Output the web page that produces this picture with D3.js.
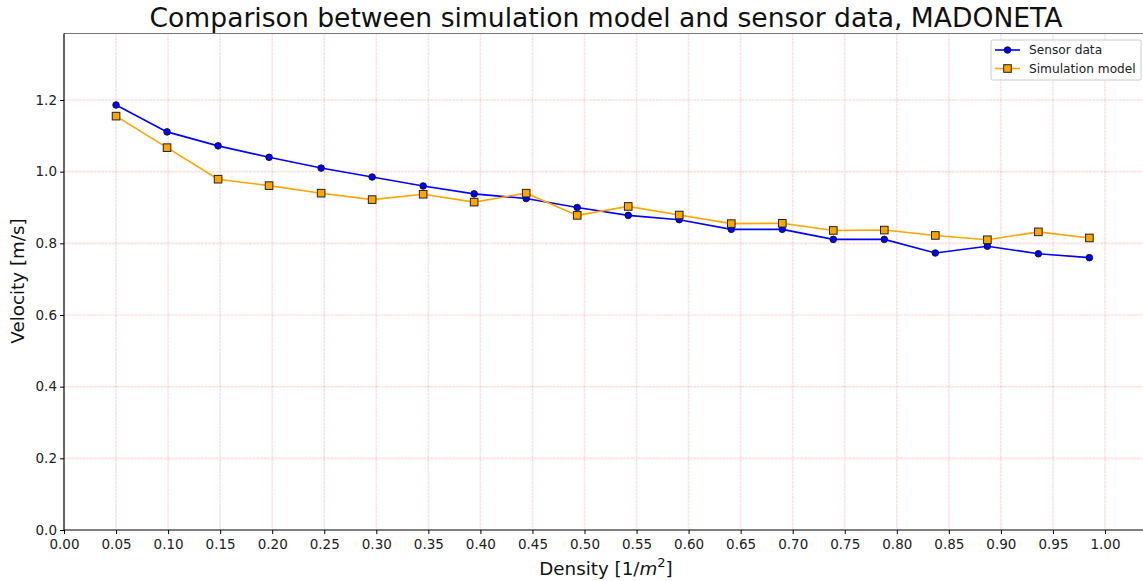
<!DOCTYPE html>
<html>
<head>
<meta charset="utf-8">
<script src="https://cdn.jsdelivr.net/npm/d3@7"></script>
<style>
  body { margin: 0; background: #fff; }
  svg { font-family: "DejaVu Sans", sans-serif; }
</style>
</head>
<body>
<svg id="chart"></svg>
<script>
// density bins (x) and velocities
const density = [0.050, 0.099, 0.148, 0.197, 0.247, 0.296, 0.345, 0.394, 0.444, 0.493,
                 0.542, 0.591, 0.641, 0.690, 0.739, 0.788, 0.837, 0.887, 0.936, 0.985];
const sensorData = [1.186, 1.111, 1.072, 1.040, 1.010, 0.985, 0.960, 0.938, 0.925, 0.900,
                    0.878, 0.866, 0.839, 0.839, 0.811, 0.811, 0.773, 0.792, 0.771, 0.760];
const simModel = [1.155, 1.067, 0.979, 0.961, 0.940, 0.922, 0.937, 0.915, 0.940, 0.878,
                  0.903, 0.879, 0.855, 0.856, 0.836, 0.837, 0.822, 0.810, 0.832, 0.815];
const xTicks = d3.range(0, 21).map(i => i * 0.05);
const yTicks = [0, 0.2, 0.4, 0.6, 0.8, 1.0, 1.2];
const seriesNames = ["Sensor data", "Simulation model"];

const width = 1143,
      height = 581,
      plotLeft = 64,
      plotRight = 1143,
      plotTop = 33.5,
      plotBottom = 530;

const xScale = d3.scaleLinear()
                  .domain([0, 1])
                  .range([plotLeft, 1105]);
const yScale = d3.scaleLinear()
                  .domain([0, 1.2])
                  .range([plotBottom, 100]);

const svg = d3.select('#chart')
              .attr('width', width)
              .attr('height', height);

// grid
const grid = svg.append('g');
grid.selectAll('.vgrid')
    .data(xTicks.slice(1))
    .enter().append('line')
    .attr('x1', d => xScale(d)).attr('x2', d => xScale(d))
    .attr('y1', plotTop).attr('y2', plotBottom)
    .attr('stroke', 'rgba(255,0,0,0.12)')
    .attr('stroke-width', 1.6)
    .attr('stroke-dasharray', '3,0.7');
grid.selectAll('.hgrid')
    .data(yTicks.slice(1))
    .enter().append('line')
    .attr('x1', plotLeft).attr('x2', plotRight)
    .attr('y1', d => yScale(d)).attr('y2', d => yScale(d))
    .attr('stroke', 'rgba(255,0,0,0.12)')
    .attr('stroke-width', 1.6)
    .attr('stroke-dasharray', '3,0.7');

// top spine (gray)
svg.append('line')
   .attr('x1', plotLeft).attr('x2', plotRight)
   .attr('y1', plotTop).attr('y2', plotTop)
   .attr('stroke', '#777').attr('stroke-width', 1.2);

// axes
const xAxis = svg.append('g')
    .attr('transform', `translate(0, ${plotBottom})`)
    .call(d3.axisBottom(xScale).tickValues(xTicks).tickFormat(d3.format('.2f')).tickSize(4).tickSizeOuter(0));
const yAxis = svg.append('g')
    .attr('transform', `translate(${plotLeft}, 0)`)
    .call(d3.axisLeft(yScale).tickValues(yTicks).tickFormat(d3.format('.1f')).tickSize(4).tickSizeOuter(0));

xAxis.select('.domain').attr('d', `M${plotLeft},0H${plotRight}`);
yAxis.select('.domain').attr('d', `M0,${plotBottom}V${plotTop}`);
[xAxis, yAxis].forEach(a => {
  a.selectAll('.domain').attr('stroke', '#000').attr('stroke-width', 1.2);
  a.selectAll('.tick line').attr('stroke', '#000');
  a.selectAll('.tick text')
   .attr('font-family', 'DejaVu Sans')
   .attr('font-size', 13.5)
   .attr('fill', '#222');
});
xAxis.selectAll('.tick text').attr('dy', '0.92em');

// lines + markers
const line = d3.line()
               .x(d => xScale(d[0]))
               .y(d => yScale(d[1]));

const sensorPts = density.map((d, i) => [d, sensorData[i]]);
const simPts = density.map((d, i) => [d, simModel[i]]);

svg.append('path')
   .datum(sensorPts)
   .attr('d', line)
   .attr('fill', 'none')
   .attr('stroke', '#0000ff')
   .attr('stroke-width', 1.6);
svg.append('path')
   .datum(simPts)
   .attr('d', line)
   .attr('fill', 'none')
   .attr('stroke', '#ffa500')
   .attr('stroke-width', 1.6);

svg.selectAll('.dot')
   .data(sensorPts)
   .enter().append('circle')
   .attr('cx', d => xScale(d[0]))
   .attr('cy', d => yScale(d[1]))
   .attr('r', 3.3)
   .attr('fill', '#0000ff')
   .attr('stroke', '#111')
   .attr('stroke-width', 0.9);

svg.selectAll('.sq')
   .data(simPts)
   .enter().append('rect')
   .attr('x', d => xScale(d[0]) - 3.8)
   .attr('y', d => yScale(d[1]) - 3.8)
   .attr('width', 7.6)
   .attr('height', 7.6)
   .attr('fill', '#ffa500')
   .attr('stroke', '#222')
   .attr('stroke-width', 1);

// labels
svg.append('text')
   .attr('x', 606).attr('y', 27)
   .attr('text-anchor', 'middle')
   .attr('font-size', 26.6)
   .attr('fill', '#111')
   .text('Comparison between simulation model and sensor data, MADONETA');

const xl = svg.append('text')
   .attr('x', 606).attr('y', 575)
   .attr('text-anchor', 'middle')
   .attr('font-size', 18.3)
   .attr('fill', '#111');
xl.append('tspan').text('Density [1/');
xl.append('tspan').attr('font-style', 'italic').text('m');
xl.append('tspan').attr('font-size', 13).attr('dy', -8).text('2');
xl.append('tspan').attr('dy', 8).text(']');

svg.append('text')
   .attr('transform', `translate(24, 281) rotate(-90)`)
   .attr('text-anchor', 'middle')
   .attr('font-size', 18.3)
   .attr('fill', '#111')
   .text('Velocity [m/s]');

// legend
const lg = svg.append('g').attr('transform', 'translate(991, 40)');
lg.append('rect')
  .attr('width', 150).attr('height', 40)
  .attr('rx', 2)
  .attr('fill', '#fff')
  .attr('stroke', '#ccc');
seriesNames.forEach((name, i) => {
  const y = 10 + i * 18.5;
  lg.append('line')
    .attr('x1', 4).attr('x2', 29).attr('y1', y).attr('y2', y)
    .attr('stroke', i === 0 ? '#0000ff' : '#ffa500')
    .attr('stroke-width', 1.6);
  if (i === 0) {
    lg.append('circle').attr('cx', 16.5).attr('cy', y).attr('r', 3.3)
      .attr('fill', '#0000ff').attr('stroke', '#111').attr('stroke-width', 0.9);
  } else {
    lg.append('rect').attr('x', 12.7).attr('y', y - 3.8).attr('width', 7.6).attr('height', 7.6)
      .attr('fill', '#ffa500').attr('stroke', '#222');
  }
  lg.append('text')
    .attr('x', 38).attr('y', y + 4)
    .attr('font-size', 12.2)
    .attr('fill', '#222')
    .text(name);
});
</script>
</body>
</html>
